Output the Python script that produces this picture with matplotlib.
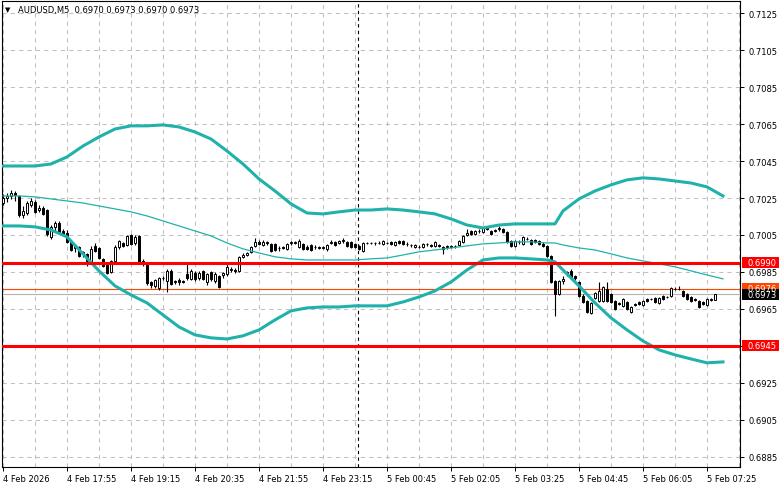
import numpy as np
import matplotlib.pyplot as plt
from matplotlib.patches import Rectangle
from matplotlib.transforms import blended_transform_factory

# AUDUSD M5 candles, prices in points (1e-5)
open_pts = [
    70223, 70250, 70261, 70277, 70261, 70158, 70169, 70213, 70229, 70185,
    70196, 70185, 70040, 70094, 70115, 70072, 70061, 70013, 69980, 69986,
    69948, 69948, 69905, 69991, 69980, 69921, 69894, 69850, 69910, 69986,
    70007, 69996, 70050, 70007, 70045, 69910, 69899, 69796, 69775, 69764,
    69818, 69802, 69856, 69796, 69807, 69802, 69840, 69813, 69845, 69818,
    69856, 69796, 69850, 69802, 69829, 69834, 69840, 69861, 69861, 69856,
    69932, 69942, 69959, 69991, 70013, 69996, 70013, 70002, 70002, 69980,
    69986, 69975, 70007, 70013, 69986, 70002, 69986, 69996, 69986, 69986,
    69980, 69975, 70007, 70013, 70007, 70018, 70013, 70013, 70002, 69991,
    69964, 70007, 70007, 70007, 70007, 70002, 70007, 70013, 69996, 70018,
    70018, 70002, 69996, 69986, 69986, 69986, 70002, 69996, 69991, 69996,
    69986, 69986, 69991, 69991, 69996, 70013, 70050, 70072, 70056, 70072,
    70067, 70088, 70072, 70077, 70083, 70083, 70067, 70018, 69991, 70013,
    70002, 70029, 70023, 70023, 70018, 70002, 69991, 69937, 69802, 69731,
    69802, 69840, 69856, 69829, 69796, 69721, 69694, 69629, 69710, 69694,
    69694, 69759, 69731, 69694, 69683, 69667, 69688, 69634, 69677, 69688,
    69672, 69704, 69704, 69710, 69683, 69721, 69715, 69721, 69759, 69759,
    69748, 69731, 69715, 69704, 69694, 69688, 69672, 69699, 69700,
]
high_pts = [
    70272, 70277, 70294, 70288, 70267, 70207, 70234, 70250, 70240, 70213,
    70207, 70191, 70104, 70126, 70126, 70083, 70077, 70023, 69996, 69991,
    69964, 69953, 69991, 70007, 69986, 69926, 69899, 69915, 69996, 70023,
    70013, 70050, 70056, 70050, 70050, 69921, 69905, 69802, 69813, 69823,
    69829, 69867, 69867, 69807, 69818, 69807, 69894, 69867, 69856, 69856,
    69861, 69845, 69856, 69850, 69834, 69850, 69894, 69878, 69872, 69937,
    69953, 69959, 69991, 70034, 70023, 70023, 70018, 70007, 70007, 69991,
    69991, 70007, 70018, 70018, 70029, 70007, 69996, 70002, 69996, 69991,
    69991, 70002, 70023, 70018, 70023, 70034, 70018, 70018, 70007, 69996,
    70013, 70013, 70013, 70013, 70018, 70023, 70013, 70018, 70018, 70023,
    70023, 70013, 70002, 70002, 69996, 70007, 70007, 70002, 70018, 70002,
    69991, 69996, 69996, 69996, 70023, 70050, 70083, 70077, 70077, 70083,
    70094, 70094, 70077, 70083, 70099, 70088, 70072, 70023, 70023, 70023,
    70045, 70040, 70029, 70029, 70023, 70013, 69996, 69942, 69807, 69807,
    69829, 69856, 69867, 69834, 69802, 69731, 69699, 69688, 69742, 69796,
    69775, 69796, 69737, 69699, 69688, 69710, 69694, 69667, 69683, 69694,
    69699, 69710, 69710, 69715, 69715, 69726, 69721, 69769, 69769, 69775,
    69753, 69737, 69721, 69710, 69699, 69694, 69710, 69710, 69730,
]
low_pts = [
    70213, 70229, 70245, 70234, 70148, 70142, 70158, 70202, 70169, 70175,
    70158, 70045, 70029, 70072, 70061, 70050, 70007, 69964, 69959, 69932,
    69932, 69883, 69899, 69959, 69921, 69878, 69840, 69845, 69905, 69975,
    69986, 69991, 69996, 69996, 69899, 69883, 69780, 69764, 69764, 69753,
    69807, 69742, 69780, 69786, 69780, 69791, 69807, 69807, 69802, 69807,
    69807, 69780, 69802, 69791, 69764, 69818, 69829, 69850, 69845, 69850,
    69926, 69937, 69953, 69986, 69996, 69991, 69996, 69959, 69964, 69964,
    69975, 69969, 69996, 70002, 69980, 69969, 69969, 69964, 69975, 69975,
    69975, 69964, 70002, 69991, 70002, 70007, 69986, 69980, 69980, 69969,
    69959, 70002, 70002, 69996, 70002, 69996, 70002, 69996, 69991, 70002,
    69996, 69991, 69986, 69980, 69980, 69980, 69991, 69986, 69986, 69986,
    69948, 69975, 69980, 69980, 69991, 70007, 70045, 70050, 70050, 70061,
    70061, 70077, 70050, 70067, 70072, 70061, 70007, 69986, 69986, 70002,
    69996, 70023, 69996, 70007, 69996, 69986, 69932, 69791, 69613, 69726,
    69786, 69829, 69818, 69807, 69715, 69683, 69629, 69623, 69704, 69688,
    69688, 69688, 69683, 69645, 69672, 69661, 69645, 69629, 69667, 69672,
    69667, 69688, 69699, 69683, 69677, 69699, 69710, 69715, 69753, 69753,
    69715, 69699, 69688, 69694, 69656, 69672, 69667, 69694, 69700,
]
close_pts = [
    70250, 70261, 70277, 70267, 70158, 70180, 70223, 70234, 70175, 70196,
    70164, 70056, 70094, 70115, 70067, 70056, 70013, 69969, 69991, 69937,
    69959, 69910, 69975, 69964, 69926, 69883, 69845, 69910, 69986, 70018,
    69991, 70045, 70002, 70040, 69905, 69894, 69791, 69780, 69807, 69818,
    69817, 69856, 69786, 69802, 69796, 69796, 69818, 69856, 69813, 69845,
    69813, 69840, 69813, 69840, 69769, 69845, 69878, 69867, 69856, 69932,
    69942, 69953, 69986, 70013, 70002, 70013, 70007, 69964, 69969, 69979,
    69980, 70002, 70013, 70007, 70018, 69975, 69975, 69969, 69985, 69980,
    69986, 69996, 70013, 69996, 70018, 70023, 69991, 69986, 69986, 69975,
    70007, 70006, 70006, 70007, 70007, 70018, 70006, 70002, 70013, 70007,
    70002, 70001, 69995, 69996, 69985, 70002, 70001, 69991, 70013, 69991,
    69975, 69991, 69986, 69990, 70018, 70045, 70061, 70056, 70072, 70071,
    70088, 70083, 70056, 70072, 70088, 70067, 70013, 69991, 70018, 70012,
    70040, 70028, 70002, 70013, 70002, 69991, 69937, 69796, 69731, 69802,
    69813, 69850, 69823, 69818, 69721, 69688, 69634, 69683, 69737, 69748,
    69769, 69694, 69688, 69650, 69677, 69704, 69650, 69661, 69672, 69677,
    69694, 69694, 69703, 69688, 69710, 69704, 69714, 69764, 69758, 69758,
    69721, 69704, 69694, 69699, 69661, 69677, 69704, 69704, 69730,
]

# Bollinger bands, read every 4 bars
band_idx = [0, 4, 8, 12, 16, 20, 24, 28, 32, 36, 40, 44, 48, 52, 56, 60,
            64, 68, 72, 76, 80, 84, 88, 92, 96, 100, 104, 108, 112, 116, 120,
            124, 128, 132, 136, 138, 140, 144, 148, 152, 156, 160, 164, 168,
            172, 176, 180]
upper_pts = [70423, 70423, 70423, 70434, 70472, 70531, 70580, 70623, 70640,
             70640, 70645, 70634, 70607, 70569, 70504, 70434, 70353, 70288,
             70218, 70169, 70164, 70175, 70185, 70185, 70191, 70185, 70175,
             70164, 70137, 70104, 70088, 70104, 70110, 70110, 70110, 70110,
             70180, 70245, 70288, 70321, 70348, 70359, 70353, 70342, 70331,
             70310, 70261]
middle_pts = [70261, 70261, 70256, 70245, 70234, 70223, 70207, 70191, 70175,
              70153, 70126, 70099, 70072, 70045, 70007, 69975, 69953, 69932,
              69921, 69915, 69915, 69915, 69915, 69921, 69926, 69942, 69959,
              69969, 69980, 69991, 70002, 70007, 70013, 70013, 70007, 70007,
              69996, 69980, 69969, 69948, 69926, 69910, 69894, 69878, 69856,
              69834, 69813]
lower_pts = [70099, 70099, 70094, 70077, 70040, 69948, 69856, 69775, 69726,
             69683, 69618, 69553, 69510, 69494, 69488, 69505, 69537, 69591,
             69640, 69656, 69661, 69661, 69667, 69667, 69667, 69688, 69715,
             69748, 69796, 69861, 69915, 69926, 69926, 69921, 69915, 69905,
             69861, 69775, 69683, 69602, 69537, 69477, 69429, 69402, 69380,
             69359, 69364]

tick_idx = list(range(0, 177, 16))
tick_labels = ['4 Feb 2026', '4 Feb 17:55', '4 Feb 19:15', '4 Feb 20:35',
               '4 Feb 21:55', '4 Feb 23:15', '5 Feb 00:45', '5 Feb 02:05',
               '5 Feb 03:25', '5 Feb 04:45', '5 Feb 06:05', '5 Feb 07:25']
price_ticks = [0.6885, 0.6905, 0.6925, 0.6945, 0.6965, 0.6985, 0.7005,
               0.7025, 0.7045, 0.7065, 0.7085, 0.7105, 0.7125]
levels = [0.6990, 0.6945]
ask, bid = 0.6976, 0.6973
day_sep = 88.75

o = np.array(open_pts) / 1e5
h = np.array(high_pts) / 1e5
l = np.array(low_pts) / 1e5
c = np.array(close_pts) / 1e5
x = np.arange(len(o))

plt.rcParams['font.family'] = 'DejaVu Sans'
fig = plt.figure(figsize=(7.81, 4.89), dpi=100)
ax = fig.add_axes([2/781, 21/489, 738/781, 466/489])

ax.set_xlim(-0.25, 184.25)
ax.set_ylim(0.687959, 0.713149)

# grid
ax.set_yticks(price_ticks)
ax.set_yticklabels(['%.4f' % p for p in price_ticks])
ax.set_xticks(tick_idx)
ax.set_xticklabels(tick_labels, ha='left')
ax.set_xticks(range(0, 185, 8), minor=True)
ax.grid(which='major', axis='y', color='#c0c0c0', lw=0.75, dashes=(4, 4))
ax.grid(which='both', axis='x', color='#c0c0c0', lw=0.75, dashes=(4, 4))
ax.set_axisbelow(True)
ax.yaxis.tick_right()
ax.tick_params(axis='y', length=3, pad=3, labelsize=6, width=0.7)
ax.tick_params(axis='x', which='major', length=3, pad=2, labelsize=6, width=0.7)
ax.tick_params(axis='x', which='minor', length=0)
for s in ax.spines.values():
    s.set_linewidth(0.8)
    s.set_color('black')

ax.axvline(day_sep, color='black', lw=0.8, dashes=(3, 3), zorder=2)

# candles
up = c >= o
ax.vlines(x, l, h, color='black', lw=0.8, zorder=3)
body = np.maximum(np.abs(c - o), 0.000008)
ax.bar(x, body, bottom=np.minimum(o, c), width=0.72,
       color=np.where(up, 'white', 'black'), edgecolor='black',
       linewidth=0.7, zorder=4)

# bands
bi = np.array(band_idx)
ax.plot(bi, np.array(upper_pts) / 1e5, color='#20b2aa', lw=2.2, zorder=5)
ax.plot(bi, np.array(lower_pts) / 1e5, color='#20b2aa', lw=2.2, zorder=5)
ax.plot(bi, np.array(middle_pts) / 1e5, color='#20b2aa', lw=0.9, zorder=5)

# levels and price lines
ax.axhline(bid, color='#b4b4b4', lw=0.8, zorder=2)
ax.axhline(ask, color='#ff4500', lw=0.8, zorder=2)
for lv in levels:
    ax.axhline(lv, color='#ff0000', lw=2.2, zorder=6)

trans = blended_transform_factory(ax.transAxes, ax.transData)
hh = 5.5 / 18500
boxes = [(0.6990, '#ff0000'), (0.6945, '#ff0000'),
         (ask, '#ff4500'), (bid, '#000000')]
for p, col in boxes:
    ax.add_patch(Rectangle((1.0027, p - hh), 0.0501, 2 * hh, transform=trans,
                           facecolor=col, edgecolor='none', clip_on=False,
                           zorder=10))
    ax.text(1.0108, p, '%.4f' % p, transform=trans, color='white',
            fontsize=6, va='center', ha='left', clip_on=False, zorder=11)

fig.text(5/781, 1 - 10/489, '\u25bc', fontsize=5, va='center', ha='left')
fig.text(18/781, 1 - 10/489, 'AUDUSD,M5  0.6970 0.6973 0.6970 0.6973',
         fontsize=6, va='center', ha='left')

fig.savefig('out.png', dpi=100, facecolor='white')
